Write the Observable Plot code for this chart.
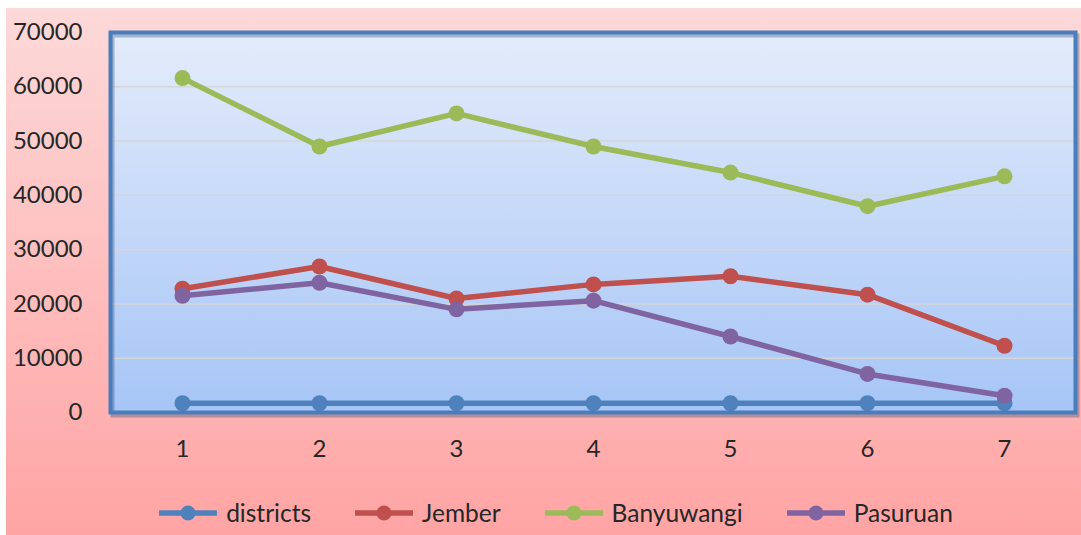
<!DOCTYPE html>
<html><head><meta charset="utf-8">
<script src="https://cdn.jsdelivr.net/npm/d3@7"></script>
<script src="https://cdn.jsdelivr.net/npm/@observablehq/plot@0.6"></script>
<style>
html,body{margin:0;padding:0;background:#fff;}
#card{position:absolute;left:6px;top:8px;width:1075px;height:527px;background:linear-gradient(to bottom,#fdd9d9,#ffa4a4);font-family:Lato,sans-serif;overflow:hidden;}
#chart{position:absolute;left:0;top:0;}
#legend{position:absolute;top:490px;left:0;width:100%;padding-left:24px;box-sizing:border-box;display:flex;justify-content:center;gap:43px;font-size:24.5px;color:#262626;}
#legend .item{display:flex;align-items:center;gap:8px;}
</style>
</head><body>
<div id="card"><div id="chart"></div><div id="legend"></div></div>
<script>
const categories = [1, 2, 3, 4, 5, 6, 7];
const seriesNames = ["districts", "Jember", "Banyuwangi", "Pasuruan"];
const seriesColors = ["#4f81bd", "#c0504d", "#9bbb59", "#8064a2"];
const districts  = [1700, 1700, 1700, 1700, 1700, 1700, 1700];
const jember     = [22800, 26900, 21000, 23600, 25100, 21700, 12300];
const banyuwangi = [61600, 49000, 55100, 49000, 44200, 38000, 43500];
const pasuruan   = [21500, 23900, 19000, 20600, 14000, 7100, 3100];
const yTicks = [0, 10000, 20000, 30000, 40000, 50000, 60000, 70000];

const seriesValues = [districts, jember, banyuwangi, pasuruan];
const data = seriesNames.map((name, i) =>
  categories.map((c, j) => ({series: name, x: c, value: seriesValues[i][j]})));

const marks = [
  Plot.frame({fill: "url(#plotbg)"}),
  Plot.gridY(yTicks, {stroke: "#d6d6d6", strokeOpacity: 1, strokeWidth: 1.5}),
  Plot.axisY({ticks: yTicks, tickSize: 0, tickPadding: 28, tickFormat: d => String(d), label: null}),
  Plot.axisX({tickSize: 0, tickPadding: 27, label: null})
];
data.forEach(rows => {
  marks.push(Plot.line(rows, {x: "x", y: "value", stroke: "series", strokeWidth: 5.5}));
  marks.push(Plot.dot(rows, {x: "x", y: "value", fill: "series", r: 8}));
});
marks.push(Plot.frame({stroke: "#2c4a73", strokeOpacity: 0.35, strokeWidth: 4, dx: 2, dy: 3}));
marks.push(Plot.frame({stroke: "#4a7dbb", strokeWidth: 4}));

const chart = Plot.plot({
  width: 1075, height: 470,
  marginLeft: 104, marginRight: 6, marginTop: 24, marginBottom: 66,
  style: {fontSize: "24px", fontFamily: "Lato, sans-serif", color: "#262626", background: "transparent", overflow: "visible"},
  x: {type: "point", domain: categories, padding: 0.5},
  y: {domain: [0, 70000]},
  color: {domain: seriesNames, range: seriesColors},
  marks
});
chart.insertAdjacentHTML("afterbegin",
  '<defs><linearGradient id="plotbg" x1="0" y1="0" x2="0" y2="1">' +
  '<stop offset="0" stop-color="#e4ecfb"/><stop offset="1" stop-color="#a6c5f6"/></linearGradient></defs>');
document.getElementById("chart").appendChild(chart);

const legend = document.getElementById("legend");
seriesNames.forEach((name, i) => {
  const item = document.createElement("div");
  item.className = "item";
  item.innerHTML = `<svg width="60" height="20"><line x1="1" x2="59" y1="10" y2="10" stroke="${seriesColors[i]}" stroke-width="5.5"/><circle cx="30" cy="10" r="7.5" fill="${seriesColors[i]}"/></svg><span>${name}</span>`;
  legend.appendChild(item);
});
</script>
</body></html>
